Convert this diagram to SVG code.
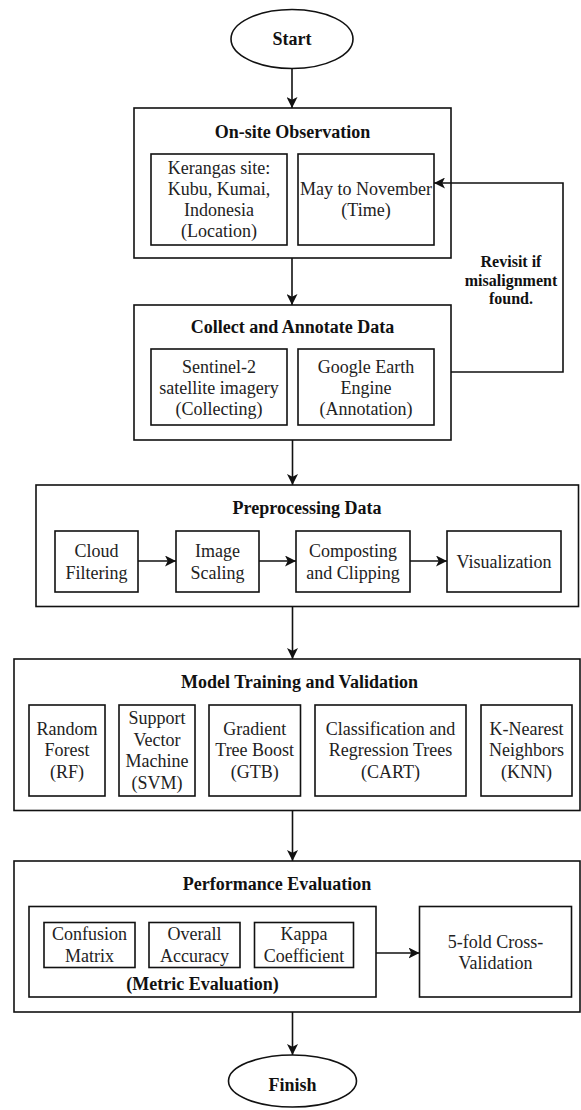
<svg xmlns="http://www.w3.org/2000/svg" width="581" height="1110" viewBox="0 0 581 1110">
<style>
.box{fill:#fff;stroke:#111;stroke-width:1.6}
.t{font-family:"Liberation Serif","Times New Roman",serif;font-size:18px;fill:#222;text-anchor:middle}
.b{font-family:"Liberation Serif","Times New Roman",serif;font-size:18px;font-weight:bold;fill:#111;text-anchor:middle}
.rb{font-family:"Liberation Serif","Times New Roman",serif;font-size:16px;font-weight:bold;fill:#111;text-anchor:middle}
.c{fill:none;stroke:#111;stroke-width:1.6}
</style>
<defs>
<marker id="ah" viewBox="0 0 10 10" refX="10" refY="5" markerWidth="11" markerHeight="11" markerUnits="userSpaceOnUse" orient="auto">
<path d="M0,0 L10,5 L0,10 L2.5,5 z" fill="#111"/>
</marker>
</defs>
<rect width="581" height="1110" fill="#fff"/>

<g id="start"><ellipse class="box" cx="292" cy="39" rx="61" ry="29.5"/><text class="b" x="292" y="44.5">Start</text></g>

<g id="onsite">
<rect class="box" x="134" y="108" width="317" height="150"/>
<text class="b" x="292.5" y="137.5">On-site Observation</text>
<rect class="box" x="151" y="154" width="136" height="91"/>
<text class="t" y="174"><tspan x="219" >Kerangas site:</tspan><tspan x="219" dy="21">Kubu, Kumai,</tspan><tspan x="219" dy="21">Indonesia</tspan><tspan x="219" dy="21">(Location)</tspan></text>
<rect class="box" x="298" y="154" width="136" height="91"/>
<text class="t" y="194.5"><tspan x="366">May to November</tspan><tspan x="366" dy="21">(Time)</tspan></text>
</g>

<g id="collect">
<rect class="box" x="134" y="305" width="317" height="135"/>
<text class="b" x="292.5" y="333">Collect and Annotate Data</text>
<rect class="box" x="151" y="349" width="136" height="76"/>
<text class="t" y="372.5"><tspan x="219">Sentinel-2</tspan><tspan x="219" dy="21">satellite imagery</tspan><tspan x="219" dy="21">(Collecting)</tspan></text>
<rect class="box" x="298" y="349" width="136" height="76"/>
<text class="t" y="372.5"><tspan x="366">Google Earth</tspan><tspan x="366" dy="21">Engine</tspan><tspan x="366" dy="21">(Annotation)</tspan></text>
</g>

<g id="revisit-label">
<text class="rb" y="267"><tspan x="511">Revisit if</tspan><tspan x="511" dy="18.5">misalignment</tspan><tspan x="511" dy="18.5">found.</tspan></text>
</g>

<g id="preprocessing">
<rect class="box" x="36" y="485" width="542.5" height="121.5"/>
<text class="b" x="307" y="514">Preprocessing Data</text>
<rect class="box" x="55" y="531" width="83" height="61"/>
<text class="t" y="557"><tspan x="96.5">Cloud</tspan><tspan x="96.5" dy="22">Filtering</tspan></text>
<rect class="box" x="176" y="531" width="83" height="61"/>
<text class="t" y="557"><tspan x="217.5">Image</tspan><tspan x="217.5" dy="22">Scaling</tspan></text>
<rect class="box" x="296" y="531" width="114" height="61"/>
<text class="t" y="557"><tspan x="353">Composting</tspan><tspan x="353" dy="22">and Clipping</tspan></text>
<rect class="box" x="447" y="531" width="114" height="61"/>
<text class="t" x="504" y="567.5">Visualization</text>
</g>

<g id="model">
<rect class="box" x="14" y="659" width="566" height="151.5"/>
<text class="b" x="299.5" y="688">Model Training and Validation</text>
<rect class="box" x="29" y="705" width="76" height="91"/>
<text class="t" y="734.5"><tspan x="67">Random</tspan><tspan x="67" dy="21.5">Forest</tspan><tspan x="67" dy="21.5">(RF)</tspan></text>
<rect class="box" x="119" y="705" width="76" height="91"/>
<text class="t" y="724"><tspan x="157">Support</tspan><tspan x="157" dy="21.5">Vector</tspan><tspan x="157" dy="21.5">Machine</tspan><tspan x="157" dy="21.5">(SVM)</tspan></text>
<rect class="box" x="209" y="705" width="91.5" height="91"/>
<text class="t" y="734.5"><tspan x="254.7">Gradient</tspan><tspan x="254.7" dy="21.5">Tree Boost</tspan><tspan x="254.7" dy="21.5">(GTB)</tspan></text>
<rect class="box" x="315" y="705" width="151" height="91"/>
<text class="t" y="734.5"><tspan x="390.5">Classification and</tspan><tspan x="390.5" dy="21.5">Regression Trees</tspan><tspan x="390.5" dy="21.5">(CART)</tspan></text>
<rect class="box" x="481" y="705" width="91" height="91"/>
<text class="t" y="734.5"><tspan x="526.5">K-Nearest</tspan><tspan x="526.5" dy="21.5">Neighbors</tspan><tspan x="526.5" dy="21.5">(KNN)</tspan></text>
</g>

<g id="performance">
<rect class="box" x="14" y="861" width="566" height="151"/>
<text class="b" x="277" y="890">Performance Evaluation</text>
<g id="metric">
<rect class="box" x="29" y="906.5" width="347" height="90.5"/>
<rect class="box" x="44" y="922.5" width="91" height="45"/>
<text class="t" y="940"><tspan x="89.5">Confusion</tspan><tspan x="89.5" dy="21.5">Matrix</tspan></text>
<rect class="box" x="149" y="922.5" width="91" height="45"/>
<text class="t" y="940"><tspan x="194.5">Overall</tspan><tspan x="194.5" dy="21.5">Accuracy</tspan></text>
<rect class="box" x="254.5" y="922.5" width="99" height="45"/>
<text class="t" y="940"><tspan x="304">Kappa</tspan><tspan x="304" dy="21.5">Coefficient</tspan></text>
<text class="b" x="202.5" y="990">(Metric Evaluation)</text>
</g>
<g id="crossval">
<rect class="box" x="419.5" y="906.5" width="152" height="90.5"/>
<text class="t" y="947.5"><tspan x="495.5">5-fold Cross-</tspan><tspan x="495.5" dy="21.5">Validation</tspan></text>
</g>
</g>

<g id="finish"><ellipse class="box" cx="292.5" cy="1081" rx="64" ry="26"/><text class="b" x="292.5" y="1091">Finish</text></g>

<g id="connectors">
<line class="c" x1="292" y1="68.5" x2="292" y2="108" marker-end="url(#ah)"/>
<line class="c" x1="292" y1="258" x2="292" y2="305" marker-end="url(#ah)"/>
<line class="c" x1="292.5" y1="440" x2="292.5" y2="485" marker-end="url(#ah)"/>
<line class="c" x1="292.5" y1="606.5" x2="292.5" y2="659" marker-end="url(#ah)"/>
<line class="c" x1="292.5" y1="810.5" x2="292.5" y2="861" marker-end="url(#ah)"/>
<line class="c" x1="292.5" y1="1012" x2="292.5" y2="1055" marker-end="url(#ah)"/>
<line class="c" x1="138" y1="561" x2="176" y2="561" marker-end="url(#ah)"/>
<line class="c" x1="259" y1="561" x2="296" y2="561" marker-end="url(#ah)"/>
<line class="c" x1="410" y1="561" x2="447" y2="561" marker-end="url(#ah)"/>
<line class="c" x1="376" y1="953" x2="419.5" y2="953" marker-end="url(#ah)"/>
<path class="c" d="M451,372 H563 V183 H434" marker-end="url(#ah)"/>
</g>
</svg>
